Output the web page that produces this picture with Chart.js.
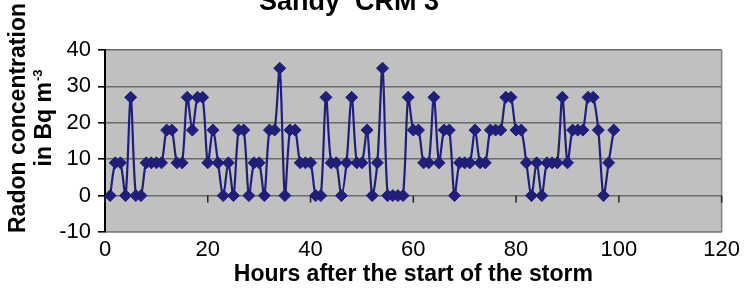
<!DOCTYPE html>
<html>
<head>
<meta charset="utf-8">
<script src="https://cdn.jsdelivr.net/npm/chart.js@4"></script>
<style>
  html, body { margin: 0; padding: 0; background: #fff; }
</style>
</head>
<body>
<canvas id="chart" width="745" height="291"></canvas>
<script>
const hours = [1, 2, 3, 4, 5, 6, 7, 8, 9, 10,
  11, 12, 13, 14, 15, 16, 17, 18, 19, 20,
  21, 22, 23, 24, 25, 26, 27, 28, 29, 30,
  31, 32, 33, 34, 35, 36, 37, 38, 39, 40,
  41, 42, 43, 44, 45, 46, 47, 48, 49, 50,
  51, 52, 53, 54, 55, 56, 57, 58, 59, 60,
  61, 62, 63, 64, 65, 66, 67, 68, 69, 70,
  71, 72, 73, 74, 75, 76, 77, 78, 79, 80,
  81, 82, 83, 84, 85, 86, 87, 88, 89, 90,
  91, 92, 93, 94, 95, 96, 97, 98, 99];
const radon = [0, 9, 9, 0, 27, 0, 0, 9, 9, 9,
  9, 18, 18, 9, 9, 27, 18, 27, 27, 9,
  18, 9, 0, 9, 0, 18, 18, 0, 9, 9,
  0, 18, 18, 35, 0, 18, 18, 9, 9, 9,
  0, 0, 27, 9, 9, 0, 9, 27, 9, 9,
  18, 0, 9, 35, 0, 0, 0, 0, 27, 18,
  18, 9, 9, 27, 9, 18, 18, 0, 9, 9,
  9, 18, 9, 9, 18, 18, 18, 27, 27, 18,
  18, 9, 0, 9, 0, 9, 9, 9, 27, 9,
  18, 18, 18, 27, 27, 18, 0, 9, 18];
const xTicks = [0, 20, 40, 60, 80, 100, 120];
const yTicks = [-10, 0, 10, 20, 30, 40];
const titleText = "Sandy  CRM 3";
const xTitle = "Hours after the start of the storm";
const yTitleLines = ["Radon concentration", "in Bq m"];
const ySup = "-3";

const FONT = '"Liberation Sans", Arial, sans-serif';
const NAVY = '#1f1f7a';

// plot fill, frame, zero-line ticks and the hand-placed titles
const frame = {
  id: 'frame',
  beforeDraw(c) {
    const { ctx, chartArea: a } = c;
    ctx.save();
    ctx.fillStyle = '#c0c0c0';
    ctx.fillRect(a.left, a.top, a.right - a.left, a.bottom - a.top);
    ctx.restore();
  },
  beforeDatasetsDraw(c) {
    const { ctx, chartArea: a, scales: { x, y } } = c;
    ctx.save();
    ctx.strokeStyle = '#808080';
    ctx.lineWidth = 1.5;
    ctx.beginPath();
    ctx.moveTo(a.right, a.top);
    ctx.lineTo(a.right, a.bottom);
    ctx.stroke();
    const y0 = y.getPixelForValue(0);
    ctx.strokeStyle = '#222';
    xTicks.forEach(v => {
      const px = x.getPixelForValue(v);
      ctx.beginPath();
      ctx.moveTo(px, y0);
      ctx.lineTo(px, y0 + 7);
      ctx.stroke();
    });
    ctx.restore();
  },
  afterDraw(c) {
    const ctx = c.ctx;
    ctx.save();
    ctx.fillStyle = '#000';
    ctx.font = 'bold 27px ' + FONT;
    ctx.textAlign = 'center';
    ctx.textBaseline = 'alphabetic';
    ctx.fillText(titleText, 349, 10);

    ctx.save();
    ctx.translate(25, 118);
    ctx.rotate(-Math.PI / 2);
    ctx.font = 'bold 23px ' + FONT;
    ctx.fillText(yTitleLines[0], 0, 0);
    ctx.restore();

    ctx.save();
    ctx.translate(51, 118);
    ctx.rotate(-Math.PI / 2);
    ctx.font = 'bold 23px ' + FONT;
    const w1 = ctx.measureText(yTitleLines[1]).width;
    ctx.font = 'bold 13px ' + FONT;
    const w2 = ctx.measureText(ySup).width;
    const start = -(w1 + w2 + 1) / 2;
    ctx.textAlign = 'left';
    ctx.font = 'bold 23px ' + FONT;
    ctx.fillText(yTitleLines[1], start, 0);
    ctx.font = 'bold 13px ' + FONT;
    ctx.fillText(ySup, start + w1 + 1, -9);
    ctx.restore();

    ctx.restore();
  }
};

new Chart(document.getElementById('chart').getContext('2d'), {
  type: 'line',
  data: {
    datasets: [{
      data: hours.map((h, i) => ({ x: h, y: radon[i] })),
      borderColor: NAVY,
      backgroundColor: NAVY,
      borderWidth: 2.2,
      pointStyle: 'rectRot',
      pointRadius: 6,
      pointBackgroundColor: NAVY,
      pointBorderColor: NAVY,
      pointBorderWidth: 1,
      tension: 0.3
    }]
  },
  options: {
    responsive: false,
    animation: false,
    layout: { padding: { top: 50, right: 22, left: 0, bottom: 0 } },
    plugins: { legend: { display: false }, tooltip: { enabled: false } },
    scales: {
      x: {
        type: 'linear',
        min: 0,
        max: 120,
        afterBuildTicks: s => { s.ticks = xTicks.map(v => ({ value: v })); },
        afterFit: s => { s.height = 59; },
        grid: { display: false, drawTicks: false },
        border: { color: '#808080', width: 1.5 },
        ticks: { color: '#000', font: { size: 22, family: FONT }, padding: 5, maxRotation: 0, autoSkip: false },
        title: { display: true, text: xTitle, color: '#000', font: { size: 23, weight: 'bold', family: FONT }, padding: { top: 0, bottom: 3 } }
      },
      y: {
        min: -10,
        max: 40,
        afterBuildTicks: s => { s.ticks = yTicks.map(v => ({ value: v })); },
        afterFit: s => { s.width = 105; },
        grid: { color: '#6a6a6a', lineWidth: 1.6, tickLength: 7, tickColor: '#000' },
        border: { color: '#000', width: 2 },
        ticks: { color: '#000', font: { size: 22, family: FONT }, padding: 7 }
      }
    }
  },
  plugins: [frame]
});
</script>
</body>
</html>
